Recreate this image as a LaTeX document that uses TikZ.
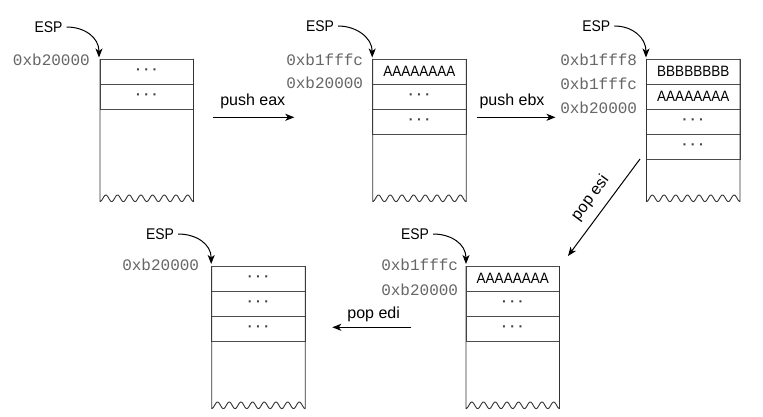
\documentclass[tikz,border=0pt]{standalone}
\usepackage{fontspec}
\setsansfont{Liberation Sans}
\setmonofont{Liberation Mono}
\newfontfamily\capsfont{Liberation Sans}[FakeStretch=0.9]
\usetikzlibrary{arrows.meta}
\newcommand{\stkdots}{\textperiodcentered\kern3.6pt\textperiodcentered\kern3.6pt\textperiodcentered}
\tikzset{
  cell/.style={draw=black!70, line width=0.8pt, minimum width=93.5pt, minimum height=25pt,
    inner sep=0pt, outer sep=0pt, anchor=north west, font=\capsfont\fontsize{15}{15}\selectfont},
  dotcell/.style={cell, text=black!75, font=\sffamily\bfseries\fontsize{14}{14}\selectfont},
  stkline/.style={draw=black!80, line width=0.9pt, line join=round},
  addr/.style={anchor=base east, inner sep=0pt, font=\ttfamily\fontsize{16}{16}\selectfont, text=black!60},
  esplbl/.style={inner sep=0pt, font=\capsfont\fontsize{15.5}{15.5}\selectfont},
  oplbl/.style={inner sep=0pt, anchor=base, font=\sffamily\fontsize{16}{16}\selectfont},
  arr/.style={-{Stealth[length=9pt,width=7pt,inset=2.5pt]}, line width=1pt},
}
\newcommand{\stkframe}[2]{%
  \draw[stkline] (#1,#2) -- (#1,#2+142.6) -- plot[domain=0:93.5,samples=141,smooth]
    ({#1+\x},{#2+139.3+3.3*cos(\x*30.802)}) -- (#1+93.5,#2);}
\begin{document}
\begin{tikzpicture}[x=1pt,y=-1pt]
\fill[white] (0,0) rectangle (763,417);
\useasboundingbox (0,0) rectangle (763,417);

% ---------- stack 1
\node[dotcell] (s1a) at (100,59) {\stkdots};
\node[dotcell] (s1b) at (s1a.south west) {\stkdots};
\stkframe{100}{59}
\node[addr] (s1addr) at (90,65.7) {0xb20000};
\node[esplbl] (esp1) at (48.5,27) {ESP};
\coordinate (t1) at (99,57.5);
\draw[arr, shorten <=4pt] (esp1.east) .. controls +(22,0) and +(0,-20) .. (t1);

% ---------- stack 2
\node[cell] (s2a) at (372.7,59) {AAAAAAAA};
\node[dotcell] (s2b) at (s2a.south west) {\stkdots};
\node[dotcell] (s2c) at (s2b.south west) {\stkdots};
\stkframe{372.7}{59}
\node[addr] (s2addr1) at (363.3,65.7) {0xb1fffc};
\node[addr] (s2addr2) at (363.3,88.8) {0xb20000};
\node[esplbl] (esp2) at (320,26) {ESP};
\coordinate (t2) at (372.2,57.5);
\draw[arr, shorten <=4pt] (esp2.east) .. controls +(22,0) and +(0,-20) .. (t2);

% ---------- stack 3
\node[cell] (s3a) at (646.5,59) {BBBBBBBB};
\node[cell] (s3b) at (s3a.south west) {AAAAAAAA};
\node[dotcell] (s3c) at (s3b.south west) {\stkdots};
\node[dotcell] (s3d) at (s3c.south west) {\stkdots};
\stkframe{646.5}{59}
\node[addr] (s3addr1) at (637.3,65.3) {0xb1fff8};
\node[addr] (s3addr2) at (637.3,89.3) {0xb1fffc};
\node[addr] (s3addr3) at (637.3,113.3) {0xb20000};
\node[esplbl] (esp3) at (596.3,26) {ESP};
\coordinate (t3) at (646,57.5);
\draw[arr, shorten <=4pt] (esp3.east) .. controls +(22,0) and +(0,-20) .. (t3);

% ---------- stack 4 (bottom right)
\node[cell] (s4a) at (466,266) {AAAAAAAA};
\node[dotcell] (s4b) at (s4a.south west) {\stkdots};
\node[dotcell] (s4c) at (s4b.south west) {\stkdots};
\stkframe{466}{266}
\node[addr] (s4addr1) at (458.3,270.7) {0xb1fffc};
\node[addr] (s4addr2) at (458.3,295.7) {0xb20000};
\node[esplbl] (esp4) at (415,234) {ESP};
\coordinate (t4) at (466,264);
\draw[arr, shorten <=4pt] (esp4.east) .. controls +(22,0) and +(0,-20) .. (t4);

% ---------- stack 5 (bottom left)
\node[dotcell] (s5a) at (211.7,266) {\stkdots};
\node[dotcell] (s5b) at (s5a.south west) {\stkdots};
\node[dotcell] (s5c) at (s5b.south west) {\stkdots};
\stkframe{211.7}{266}
\node[addr] (s5addr) at (199.3,270.7) {0xb20000};
\node[esplbl] (esp5) at (160,234) {ESP};
\coordinate (t5) at (211.2,264);
\draw[arr, shorten <=4pt] (esp5.east) .. controls +(22,0) and +(0,-20) .. (t5);

% ---------- operation arrows
\coordinate (pa1) at (213.3,117.3);
\coordinate (pa2) at (294.3,117.3);
\draw[arr] (pa1) -- (pa2);
\node[oplbl] (lpa) at (252.8,106) {push eax};

\coordinate (pb1) at (476.7,117.3);
\coordinate (pb2) at (555.5,117.3);
\draw[arr] (pb1) -- (pb2);
\node[oplbl] (lpb) at (512,106) {push ebx};

\coordinate (pc1) at (640,159);
\coordinate (pc2) at (568,256);
\draw[arr] (pc1) -- (pc2);
\node[inner sep=0pt, rotate=53.4, font=\sffamily\fontsize{16}{16}\selectfont] (lpc) at (590.5,198) {pop esi};

\coordinate (pd1) at (411,327.3);
\coordinate (pd2) at (332.3,327.3);
\draw[arr] (pd1) -- (pd2);
\node[oplbl] (lpd) at (373.7,318.3) {pop edi};
\end{tikzpicture}
\end{document}
